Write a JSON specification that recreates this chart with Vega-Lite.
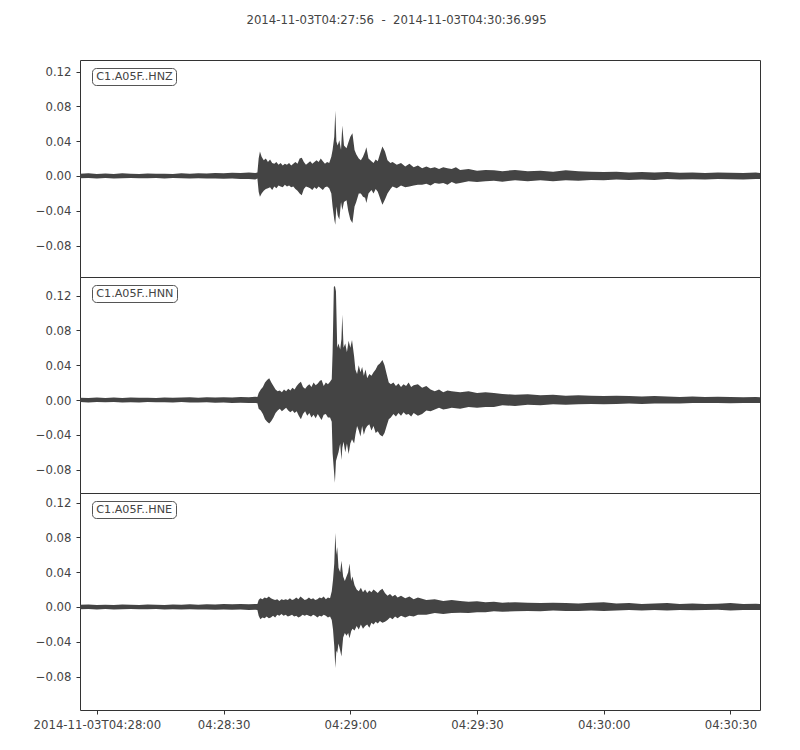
{
  "$schema": "https://vega.github.io/schema/vega-lite/v6.json",
  "padding": {"left": 32, "top": 14, "right": 40, "bottom": 20},
  "background": "white",
  "bounds": "flush",
  "title": {
    "text": "2014-11-03T04:27:56 \u00a0-\u00a0 2014-11-03T04:30:36.995",
    "font": "DejaVu Sans",
    "fontSize": 11.7,
    "fontWeight": "normal",
    "color": "#444444",
    "anchor": "middle",
    "frame": "bounds",
    "offset": 33
  },
  "datasets": {
    "hnz": [
      {"s":0,"hi":0.0025,"lo":-0.0025},{"s":2,"hi":0.003,"lo":-0.0022},{"s":4,"hi":0.0022,"lo":-0.0028},{"s":6,"hi":0.0028,"lo":-0.0024},
      {"s":8,"hi":0.0024,"lo":-0.003},{"s":10,"hi":0.003,"lo":-0.0025},{"s":12,"hi":0.0026,"lo":-0.0022},{"s":14,"hi":0.0022,"lo":-0.0027},
      {"s":16,"hi":0.0029,"lo":-0.0025},{"s":18,"hi":0.0025,"lo":-0.0023},{"s":20,"hi":0.0027,"lo":-0.0028},{"s":22,"hi":0.0023,"lo":-0.0024},
      {"s":24,"hi":0.003,"lo":-0.0026},{"s":26,"hi":0.0026,"lo":-0.003},{"s":28,"hi":0.0032,"lo":-0.0025},{"s":30,"hi":0.0028,"lo":-0.0029},
      {"s":32,"hi":0.0035,"lo":-0.003},{"s":34,"hi":0.003,"lo":-0.0033},{"s":36,"hi":0.0038,"lo":-0.003},{"s":38,"hi":0.0033,"lo":-0.0036},
      {"s":40,"hi":0.004,"lo":-0.0035},{"s":41.5,"hi":0.0035,"lo":-0.004},{"s":42,"hi":0.004,"lo":-0.003},
      {"s":42.3,"hi":0.02,"lo":-0.018},{"s":42.6,"hi":0.028,"lo":-0.024},{"s":43,"hi":0.022,"lo":-0.02},{"s":43.5,"hi":0.018,"lo":-0.017},
      {"s":44,"hi":0.02,"lo":-0.015},{"s":44.5,"hi":0.016,"lo":-0.014},{"s":45,"hi":0.019,"lo":-0.013},{"s":45.5,"hi":0.015,"lo":-0.016},
      {"s":46,"hi":0.014,"lo":-0.012},{"s":46.5,"hi":0.016,"lo":-0.014},{"s":47,"hi":0.013,"lo":-0.011},{"s":47.5,"hi":0.015,"lo":-0.012},
      {"s":48,"hi":0.012,"lo":-0.013},{"s":48.5,"hi":0.014,"lo":-0.01},{"s":49,"hi":0.013,"lo":-0.012},{"s":49.5,"hi":0.015,"lo":-0.011},
      {"s":50,"hi":0.012,"lo":-0.013},{"s":50.5,"hi":0.014,"lo":-0.012},{"s":51,"hi":0.016,"lo":-0.015},{"s":51.5,"hi":0.014,"lo":-0.017},
      {"s":52,"hi":0.02,"lo":-0.02},{"s":52.5,"hi":0.021,"lo":-0.022},{"s":53,"hi":0.016,"lo":-0.015},{"s":53.5,"hi":0.013,"lo":-0.012},
      {"s":54,"hi":0.015,"lo":-0.013},{"s":54.5,"hi":0.017,"lo":-0.014},{"s":55,"hi":0.014,"lo":-0.016},{"s":55.5,"hi":0.016,"lo":-0.013},
      {"s":56,"hi":0.018,"lo":-0.015},{"s":56.5,"hi":0.016,"lo":-0.012},{"s":57,"hi":0.02,"lo":-0.014},{"s":57.5,"hi":0.017,"lo":-0.016},
      {"s":58,"hi":0.014,"lo":-0.013},{"s":58.5,"hi":0.016,"lo":-0.012},{"s":59,"hi":0.015,"lo":-0.014},{"s":59.5,"hi":0.022,"lo":-0.02},
      {"s":59.8,"hi":0.03,"lo":-0.035},{"s":60.2,"hi":0.045,"lo":-0.05},{"s":60.45,"hi":0.075,"lo":-0.056},{"s":60.7,"hi":0.04,"lo":-0.035},
      {"s":61,"hi":0.035,"lo":-0.045},{"s":61.4,"hi":0.041,"lo":-0.05},{"s":61.8,"hi":0.03,"lo":-0.03},{"s":62.1,"hi":0.058,"lo":-0.039},
      {"s":62.5,"hi":0.035,"lo":-0.03},{"s":63.1,"hi":0.032,"lo":-0.028},{"s":63.5,"hi":0.038,"lo":-0.04},{"s":64,"hi":0.045,"lo":-0.05},
      {"s":64.5,"hi":0.049,"lo":-0.054},{"s":65,"hi":0.03,"lo":-0.035},{"s":65.4,"hi":0.025,"lo":-0.03},{"s":66,"hi":0.02,"lo":-0.02},
      {"s":66.5,"hi":0.018,"lo":-0.02},{"s":67,"hi":0.022,"lo":-0.024},{"s":67.5,"hi":0.028,"lo":-0.025},{"s":67.8,"hi":0.033,"lo":-0.031},
      {"s":68.3,"hi":0.02,"lo":-0.02},{"s":69,"hi":0.017,"lo":-0.016},{"s":69.5,"hi":0.015,"lo":-0.02},{"s":70,"hi":0.019,"lo":-0.015},
      {"s":70.5,"hi":0.017,"lo":-0.018},{"s":71,"hi":0.025,"lo":-0.025},{"s":71.6,"hi":0.034,"lo":-0.033},{"s":72.2,"hi":0.028,"lo":-0.027},
      {"s":72.8,"hi":0.018,"lo":-0.02},{"s":73.5,"hi":0.015,"lo":-0.015},{"s":74,"hi":0.016,"lo":-0.012},{"s":75,"hi":0.013,"lo":-0.014},
      {"s":76,"hi":0.015,"lo":-0.011},{"s":77,"hi":0.011,"lo":-0.013},{"s":78,"hi":0.014,"lo":-0.012},{"s":79,"hi":0.01,"lo":-0.011},
      {"s":80,"hi":0.012,"lo":-0.01},{"s":81,"hi":0.009,"lo":-0.01},{"s":82,"hi":0.011,"lo":-0.009},{"s":83,"hi":0.009,"lo":-0.011},
      {"s":84,"hi":0.01,"lo":-0.008},{"s":85,"hi":0.008,"lo":-0.009},{"s":86,"hi":0.01,"lo":-0.008},{"s":87,"hi":0.009,"lo":-0.01},
      {"s":88,"hi":0.008,"lo":-0.007},{"s":89,"hi":0.01,"lo":-0.009},{"s":90,"hi":0.007,"lo":-0.008},{"s":92,"hi":0.008,"lo":-0.006},
      {"s":94,"hi":0.006,"lo":-0.007},{"s":96,"hi":0.007,"lo":-0.006},{"s":98,"hi":0.0065,"lo":-0.0055},{"s":100,"hi":0.0055,"lo":-0.0065},
      {"s":103,"hi":0.007,"lo":-0.005},{"s":106,"hi":0.0055,"lo":-0.006},{"s":109,"hi":0.006,"lo":-0.005},{"s":112,"hi":0.005,"lo":-0.006},
      {"s":115,"hi":0.0065,"lo":-0.005},{"s":118,"hi":0.0055,"lo":-0.0055},{"s":121,"hi":0.005,"lo":-0.0045},{"s":124,"hi":0.0045,"lo":-0.005},
      {"s":127,"hi":0.005,"lo":-0.004},{"s":130,"hi":0.004,"lo":-0.0045},{"s":133,"hi":0.0045,"lo":-0.004},{"s":136,"hi":0.004,"lo":-0.0045},
      {"s":139,"hi":0.0045,"lo":-0.0035},{"s":142,"hi":0.0038,"lo":-0.004},{"s":145,"hi":0.004,"lo":-0.0038},{"s":148,"hi":0.0035,"lo":-0.004},
      {"s":151,"hi":0.004,"lo":-0.0035},{"s":154,"hi":0.0038,"lo":-0.0038},{"s":157,"hi":0.0035,"lo":-0.004},{"s":160,"hi":0.004,"lo":-0.0035},
      {"s":160.995,"hi":0.0035,"lo":-0.0035}
    ],
    "hnn": [
      {"s":0,"hi":0.0026,"lo":-0.0024},{"s":2,"hi":0.0022,"lo":-0.0028},{"s":4,"hi":0.0029,"lo":-0.0023},{"s":6,"hi":0.0024,"lo":-0.0026},
      {"s":8,"hi":0.0028,"lo":-0.0022},{"s":10,"hi":0.0023,"lo":-0.0029},{"s":12,"hi":0.003,"lo":-0.0025},{"s":14,"hi":0.0025,"lo":-0.0028},
      {"s":16,"hi":0.0027,"lo":-0.0023},{"s":18,"hi":0.0023,"lo":-0.0027},{"s":20,"hi":0.003,"lo":-0.0026},{"s":22,"hi":0.0026,"lo":-0.003},
      {"s":24,"hi":0.0028,"lo":-0.0024},{"s":26,"hi":0.0031,"lo":-0.0028},{"s":28,"hi":0.0027,"lo":-0.003},{"s":30,"hi":0.0032,"lo":-0.0027},
      {"s":32,"hi":0.0029,"lo":-0.0031},{"s":34,"hi":0.0033,"lo":-0.003},{"s":36,"hi":0.003,"lo":-0.0034},{"s":38,"hi":0.0035,"lo":-0.0031},
      {"s":40,"hi":0.0032,"lo":-0.0035},{"s":41.5,"hi":0.0036,"lo":-0.0033},{"s":42,"hi":0.0034,"lo":-0.0036},
      {"s":42.3,"hi":0.008,"lo":-0.01},{"s":42.8,"hi":0.012,"lo":-0.012},{"s":43.3,"hi":0.015,"lo":-0.016},{"s":43.8,"hi":0.02,"lo":-0.022},
      {"s":44.3,"hi":0.023,"lo":-0.025},{"s":44.8,"hi":0.025,"lo":-0.027},{"s":45.3,"hi":0.02,"lo":-0.024},{"s":45.8,"hi":0.016,"lo":-0.02},
      {"s":46.3,"hi":0.012,"lo":-0.015},{"s":46.8,"hi":0.01,"lo":-0.012},{"s":47.3,"hi":0.011,"lo":-0.01},{"s":47.8,"hi":0.009,"lo":-0.013},
      {"s":48.3,"hi":0.012,"lo":-0.011},{"s":48.8,"hi":0.01,"lo":-0.009},{"s":49.3,"hi":0.013,"lo":-0.012},{"s":49.8,"hi":0.011,"lo":-0.014},
      {"s":50.3,"hi":0.014,"lo":-0.012},{"s":50.8,"hi":0.012,"lo":-0.015},{"s":51.3,"hi":0.016,"lo":-0.013},{"s":51.8,"hi":0.019,"lo":-0.018},
      {"s":52.3,"hi":0.021,"lo":-0.022},{"s":52.8,"hi":0.015,"lo":-0.016},{"s":53.3,"hi":0.013,"lo":-0.013},{"s":53.8,"hi":0.016,"lo":-0.018},
      {"s":54.3,"hi":0.018,"lo":-0.015},{"s":54.8,"hi":0.015,"lo":-0.02},{"s":55.3,"hi":0.02,"lo":-0.017},{"s":55.8,"hi":0.017,"lo":-0.021},
      {"s":56.3,"hi":0.019,"lo":-0.016},{"s":56.8,"hi":0.022,"lo":-0.02},{"s":57.2,"hi":0.023,"lo":-0.023},{"s":57.7,"hi":0.016,"lo":-0.017},
      {"s":58.2,"hi":0.02,"lo":-0.016},{"s":58.7,"hi":0.018,"lo":-0.02},{"s":59.2,"hi":0.021,"lo":-0.02},{"s":59.6,"hi":0.024,"lo":-0.025},
      {"s":59.8,"hi":0.054,"lo":-0.061},{"s":60.1,"hi":0.13,"lo":-0.08},{"s":60.35,"hi":0.131,"lo":-0.095},{"s":60.6,"hi":0.125,"lo":-0.07},
      {"s":60.9,"hi":0.06,"lo":-0.065},{"s":61.2,"hi":0.065,"lo":-0.06},{"s":61.6,"hi":0.058,"lo":-0.05},{"s":61.9,"hi":0.07,"lo":-0.069},
      {"s":62.1,"hi":0.098,"lo":-0.055},{"s":62.4,"hi":0.06,"lo":-0.048},{"s":62.8,"hi":0.065,"lo":-0.06},{"s":63.2,"hi":0.055,"lo":-0.05},
      {"s":63.6,"hi":0.068,"lo":-0.062},{"s":64,"hi":0.06,"lo":-0.05},{"s":64.4,"hi":0.069,"lo":-0.045},{"s":64.9,"hi":0.05,"lo":-0.05},
      {"s":65.2,"hi":0.035,"lo":-0.04},{"s":65.6,"hi":0.03,"lo":-0.03},{"s":66,"hi":0.04,"lo":-0.035},{"s":66.4,"hi":0.032,"lo":-0.042},
      {"s":66.8,"hi":0.038,"lo":-0.03},{"s":67.2,"hi":0.028,"lo":-0.04},{"s":67.6,"hi":0.035,"lo":-0.033},{"s":68,"hi":0.025,"lo":-0.03},
      {"s":68.5,"hi":0.03,"lo":-0.028},{"s":69,"hi":0.028,"lo":-0.035},{"s":69.5,"hi":0.032,"lo":-0.03},{"s":70,"hi":0.035,"lo":-0.038},
      {"s":70.5,"hi":0.04,"lo":-0.036},{"s":71,"hi":0.042,"lo":-0.04},{"s":71.6,"hi":0.046,"lo":-0.042},{"s":72.1,"hi":0.04,"lo":-0.038},
      {"s":72.6,"hi":0.03,"lo":-0.03},{"s":73.1,"hi":0.02,"lo":-0.022},{"s":73.6,"hi":0.018,"lo":-0.02},{"s":74.2,"hi":0.02,"lo":-0.016},
      {"s":74.8,"hi":0.016,"lo":-0.019},{"s":75.4,"hi":0.019,"lo":-0.015},{"s":76,"hi":0.015,"lo":-0.018},{"s":76.6,"hi":0.018,"lo":-0.014},
      {"s":77.2,"hi":0.016,"lo":-0.017},{"s":77.8,"hi":0.02,"lo":-0.016},{"s":78.4,"hi":0.015,"lo":-0.019},{"s":79,"hi":0.017,"lo":-0.015},
      {"s":80,"hi":0.018,"lo":-0.018},{"s":81,"hi":0.014,"lo":-0.016},{"s":82,"hi":0.016,"lo":-0.012},{"s":83,"hi":0.012,"lo":-0.013},
      {"s":84,"hi":0.01,"lo":-0.011},{"s":85,"hi":0.012,"lo":-0.009},{"s":86,"hi":0.009,"lo":-0.011},{"s":87,"hi":0.011,"lo":-0.01},
      {"s":88,"hi":0.01,"lo":-0.009},{"s":90,"hi":0.009,"lo":-0.01},{"s":92,"hi":0.01,"lo":-0.008},{"s":94,"hi":0.008,"lo":-0.009},
      {"s":96,"hi":0.009,"lo":-0.008},{"s":98,"hi":0.008,"lo":-0.008},{"s":100,"hi":0.007,"lo":-0.006},{"s":103,"hi":0.006,"lo":-0.007},
      {"s":106,"hi":0.0065,"lo":-0.0055},{"s":109,"hi":0.0055,"lo":-0.006},{"s":112,"hi":0.006,"lo":-0.005},{"s":115,"hi":0.005,"lo":-0.0055},
      {"s":118,"hi":0.0055,"lo":-0.005},{"s":121,"hi":0.005,"lo":-0.0045},{"s":124,"hi":0.0045,"lo":-0.005},{"s":127,"hi":0.005,"lo":-0.0045},
      {"s":130,"hi":0.0045,"lo":-0.004},{"s":133,"hi":0.004,"lo":-0.0045},{"s":136,"hi":0.0045,"lo":-0.004},{"s":139,"hi":0.004,"lo":-0.004},
      {"s":142,"hi":0.0035,"lo":-0.004},{"s":145,"hi":0.004,"lo":-0.0035},{"s":148,"hi":0.0035,"lo":-0.0035},{"s":151,"hi":0.0038,"lo":-0.0035},
      {"s":154,"hi":0.0035,"lo":-0.0038},{"s":157,"hi":0.0033,"lo":-0.0035},{"s":160,"hi":0.0035,"lo":-0.0033},{"s":160.995,"hi":0.0033,"lo":-0.0033}
    ],
    "hne": [
      {"s":0,"hi":0.0025,"lo":-0.0027},{"s":2,"hi":0.0028,"lo":-0.0023},{"s":4,"hi":0.0023,"lo":-0.0028},{"s":6,"hi":0.0027,"lo":-0.0024},
      {"s":8,"hi":0.0024,"lo":-0.0029},{"s":10,"hi":0.0029,"lo":-0.0025},{"s":12,"hi":0.0025,"lo":-0.0023},{"s":14,"hi":0.0023,"lo":-0.0027},
      {"s":16,"hi":0.0028,"lo":-0.0026},{"s":18,"hi":0.0026,"lo":-0.0024},{"s":20,"hi":0.0024,"lo":-0.0029},{"s":22,"hi":0.0029,"lo":-0.0025},
      {"s":24,"hi":0.0026,"lo":-0.0028},{"s":26,"hi":0.003,"lo":-0.0026},{"s":28,"hi":0.0027,"lo":-0.003},{"s":30,"hi":0.0031,"lo":-0.0028},
      {"s":32,"hi":0.0028,"lo":-0.0032},{"s":34,"hi":0.0033,"lo":-0.0029},{"s":36,"hi":0.003,"lo":-0.0033},{"s":38,"hi":0.0034,"lo":-0.003},
      {"s":40,"hi":0.0031,"lo":-0.0034},{"s":41.5,"hi":0.0035,"lo":-0.0032},{"s":42,"hi":0.0033,"lo":-0.0035},
      {"s":42.3,"hi":0.008,"lo":-0.01},{"s":42.7,"hi":0.01,"lo":-0.014},{"s":43.2,"hi":0.009,"lo":-0.012},{"s":43.7,"hi":0.011,"lo":-0.013},
      {"s":44.2,"hi":0.01,"lo":-0.011},{"s":44.7,"hi":0.012,"lo":-0.013},{"s":45.2,"hi":0.01,"lo":-0.012},{"s":45.7,"hi":0.009,"lo":-0.01},
      {"s":46.2,"hi":0.008,"lo":-0.012},{"s":46.7,"hi":0.009,"lo":-0.009},{"s":47.2,"hi":0.007,"lo":-0.01},{"s":47.7,"hi":0.009,"lo":-0.008},
      {"s":48.2,"hi":0.008,"lo":-0.01},{"s":48.7,"hi":0.009,"lo":-0.009},{"s":49.2,"hi":0.008,"lo":-0.011},{"s":49.7,"hi":0.01,"lo":-0.01},
      {"s":50.2,"hi":0.008,"lo":-0.009},{"s":50.7,"hi":0.009,"lo":-0.011},{"s":51.2,"hi":0.011,"lo":-0.01},{"s":51.7,"hi":0.009,"lo":-0.012},
      {"s":52.2,"hi":0.012,"lo":-0.011},{"s":52.7,"hi":0.01,"lo":-0.009},{"s":53.2,"hi":0.008,"lo":-0.01},{"s":53.7,"hi":0.009,"lo":-0.009},
      {"s":54.2,"hi":0.011,"lo":-0.01},{"s":54.7,"hi":0.009,"lo":-0.011},{"s":55.2,"hi":0.01,"lo":-0.009},{"s":55.7,"hi":0.008,"lo":-0.01},
      {"s":56.2,"hi":0.009,"lo":-0.012},{"s":56.7,"hi":0.011,"lo":-0.01},{"s":57.2,"hi":0.01,"lo":-0.011},{"s":57.7,"hi":0.012,"lo":-0.009},
      {"s":58.2,"hi":0.009,"lo":-0.01},{"s":58.7,"hi":0.011,"lo":-0.012},{"s":59.2,"hi":0.01,"lo":-0.011},{"s":59.6,"hi":0.018,"lo":-0.015},
      {"s":59.9,"hi":0.031,"lo":-0.026},{"s":60.2,"hi":0.05,"lo":-0.045},{"s":60.45,"hi":0.085,"lo":-0.07},{"s":60.7,"hi":0.06,"lo":-0.05},
      {"s":60.9,"hi":0.069,"lo":-0.053},{"s":61.2,"hi":0.045,"lo":-0.042},{"s":61.6,"hi":0.04,"lo":-0.05},{"s":61.9,"hi":0.053,"lo":-0.057},
      {"s":62.3,"hi":0.035,"lo":-0.035},{"s":62.7,"hi":0.03,"lo":-0.03},{"s":63.1,"hi":0.035,"lo":-0.033},{"s":63.5,"hi":0.04,"lo":-0.03},
      {"s":63.8,"hi":0.05,"lo":-0.036},{"s":64.2,"hi":0.03,"lo":-0.028},{"s":64.5,"hi":0.035,"lo":-0.025},{"s":65,"hi":0.025,"lo":-0.027},
      {"s":65.5,"hi":0.02,"lo":-0.022},{"s":66,"hi":0.018,"lo":-0.026},{"s":66.5,"hi":0.022,"lo":-0.02},{"s":67,"hi":0.017,"lo":-0.025},
      {"s":67.5,"hi":0.02,"lo":-0.022},{"s":68,"hi":0.016,"lo":-0.02},{"s":68.5,"hi":0.019,"lo":-0.024},{"s":69,"hi":0.017,"lo":-0.018},
      {"s":69.5,"hi":0.02,"lo":-0.02},{"s":70,"hi":0.018,"lo":-0.017},{"s":70.5,"hi":0.016,"lo":-0.019},{"s":71,"hi":0.019,"lo":-0.016},
      {"s":71.6,"hi":0.021,"lo":-0.018},{"s":72.2,"hi":0.016,"lo":-0.017},{"s":72.8,"hi":0.013,"lo":-0.015},{"s":73.4,"hi":0.015,"lo":-0.012},
      {"s":74,"hi":0.012,"lo":-0.014},{"s":74.6,"hi":0.014,"lo":-0.011},{"s":75.2,"hi":0.011,"lo":-0.013},{"s":76,"hi":0.013,"lo":-0.01},
      {"s":77,"hi":0.01,"lo":-0.012},{"s":78,"hi":0.012,"lo":-0.01},{"s":79,"hi":0.009,"lo":-0.011},{"s":80,"hi":0.011,"lo":-0.009},
      {"s":82,"hi":0.008,"lo":-0.009},{"s":84,"hi":0.009,"lo":-0.007},{"s":86,"hi":0.007,"lo":-0.008},{"s":88,"hi":0.008,"lo":-0.007},
      {"s":90,"hi":0.007,"lo":-0.0065},{"s":92,"hi":0.006,"lo":-0.007},{"s":94,"hi":0.0065,"lo":-0.006},{"s":96,"hi":0.0055,"lo":-0.006},
      {"s":98,"hi":0.006,"lo":-0.005},{"s":100,"hi":0.005,"lo":-0.0055},{"s":103,"hi":0.0055,"lo":-0.005},{"s":106,"hi":0.005,"lo":-0.0045},
      {"s":109,"hi":0.0045,"lo":-0.005},{"s":112,"hi":0.005,"lo":-0.004},{"s":115,"hi":0.0045,"lo":-0.0045},{"s":118,"hi":0.004,"lo":-0.0045},
      {"s":121,"hi":0.005,"lo":-0.004},{"s":124,"hi":0.0055,"lo":-0.0045},{"s":127,"hi":0.004,"lo":-0.004},{"s":130,"hi":0.0045,"lo":-0.0035},
      {"s":133,"hi":0.0035,"lo":-0.004},{"s":136,"hi":0.004,"lo":-0.0035},{"s":139,"hi":0.0045,"lo":-0.004},{"s":142,"hi":0.0035,"lo":-0.0035},
      {"s":145,"hi":0.004,"lo":-0.0038},{"s":148,"hi":0.0035,"lo":-0.0035},{"s":151,"hi":0.0038,"lo":-0.0033},{"s":154,"hi":0.0045,"lo":-0.004},
      {"s":157,"hi":0.0035,"lo":-0.0035},{"s":160,"hi":0.0038,"lo":-0.0035},{"s":160.995,"hi":0.0035,"lo":-0.0035}
    ]
  },
  "spacing": 0,
  "vconcat": [
    {
      "width": 680, "height": 217,
      "data": {"name": "hnz"},
      "mark": {"type": "area", "interpolate": "linear"},
      "encoding": {
        "x": {"field": "s", "type": "quantitative", "scale": {"domain": [0, 160.995], "nice": false, "zero": false}, "axis": null},
        "y": {"field": "hi", "type": "quantitative", "scale": {"domain": [-0.1161, 0.1333], "nice": false, "zero": false},
              "axis": {"title": null, "values": [-0.08, -0.04, 0, 0.04, 0.08, 0.12], "format": ".2f"}},
        "y2": {"field": "lo"},
        "color": {"datum": "C1.A05F..HNZ", "scale": {"range": ["#444444"]},
                  "legend": {"orient": "none", "legendX": 12, "legendY": 8, "symbolSize": 0, "labelOffset": -10}}
      }
    },
    {
      "width": 680, "height": 216,
      "data": {"name": "hnn"},
      "mark": {"type": "area", "interpolate": "linear"},
      "encoding": {
        "x": {"field": "s", "type": "quantitative", "scale": {"domain": [0, 160.995], "nice": false, "zero": false}, "axis": null},
        "y": {"field": "hi", "type": "quantitative", "scale": {"domain": [-0.1069, 0.1414], "nice": false, "zero": false},
              "axis": {"title": null, "values": [-0.08, -0.04, 0, 0.04, 0.08, 0.12], "format": ".2f"}},
        "y2": {"field": "lo"},
        "color": {"datum": "C1.A05F..HNN", "scale": {"range": ["#444444"]},
                  "legend": {"orient": "none", "legendX": 12, "legendY": 8, "symbolSize": 0, "labelOffset": -10}}
      }
    },
    {
      "width": 680, "height": 217,
      "data": {"name": "hne"},
      "mark": {"type": "area", "interpolate": "linear"},
      "encoding": {
        "x": {"field": "s", "type": "quantitative", "scale": {"domain": [0, 160.995], "nice": false, "zero": false},
              "axis": {"title": null, "values": [4, 34, 64, 94, 124, 154],
                       "labelExpr": "datum.value == 4 ? '2014-11-03T04:28:00' : datum.value == 34 ? '04:28:30' : datum.value == 64 ? '04:29:00' : datum.value == 94 ? '04:29:30' : datum.value == 124 ? '04:30:00' : '04:30:30'"}},
        "y": {"field": "hi", "type": "quantitative", "scale": {"domain": [-0.1184, 0.131], "nice": false, "zero": false},
              "axis": {"title": null, "values": [-0.08, -0.04, 0, 0.04, 0.08, 0.12], "format": ".2f"}},
        "y2": {"field": "lo"},
        "color": {"datum": "C1.A05F..HNE", "scale": {"range": ["#444444"]},
                  "legend": {"orient": "none", "legendX": 12, "legendY": 8, "symbolSize": 0, "labelOffset": -10}}
      }
    }
  ],
  "resolve": {
    "scale": {"color": "independent", "y": "independent"},
    "legend": {"color": "independent"}
  },
  "config": {
    "font": "DejaVu Sans",
    "view": {"stroke": "#333333", "strokeWidth": 1},
    "axis": {
      "labelFont": "DejaVu Sans", "labelFontSize": 11.7, "labelColor": "#444444",
      "tickColor": "#333333", "tickSize": 4, "tickWidth": 1, "labelPadding": 5,
      "domain": false, "grid": false, "labelFlush": false, "labelOverlap": false
    },
    "legend": {
      "title": null, "symbolSize": 0, "symbolOpacity": 0, "symbolStrokeWidth": 0,
      "padding": 3, "strokeColor": "#555555", "cornerRadius": 4,
      "fillColor": "white", "labelFont": "DejaVu Sans", "labelFontSize": 11.2, "labelColor": "#444444"
    }
  }
}
